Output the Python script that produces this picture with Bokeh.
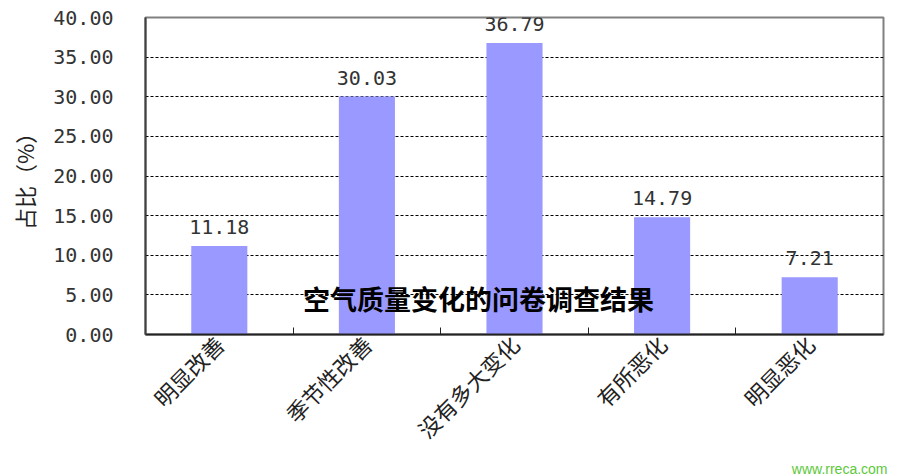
from bokeh.plotting import figure
from bokeh.models import ColumnDataSource, FixedTicker, LabelSet, Label, Range1d, Title
from bokeh.core.properties import value
from bokeh.embed import file_html
from bokeh.resources import INLINE
import math

categories = ["明显改善", "季节性改善", "没有多大变化", "有所恶化", "明显恶化"]
values = [11.18, 30.03, 36.79, 14.79, 7.21]
y_ticks = [0, 5, 10, 15, 20, 25, 30, 35, 40]
y_tick_labels = ["0.00", "5.00", "10.00", "15.00", "20.00", "25.00", "30.00", "35.00", "40.00"]
title_text = "空气质量变化的问卷调查结果"
y_label = "占比（%）"
watermark = "www.rreca.com"

xs = list(range(1, len(categories) + 1))
src = ColumnDataSource(dict(x=xs, top=values, lab=["%.2f" % v for v in values]))

p = figure(width=905, height=476, output_backend="svg", toolbar_location=None,
           x_range=Range1d(0.5, len(categories) + 0.5), y_range=Range1d(0, 40),
           min_border_left=145, min_border_right=22, min_border_top=17, min_border_bottom=142)

p.vbar(x="x", top="top", width=0.38, source=src, fill_color="#9999FF", line_color=None)

p.outline_line_color = "#808080"
p.outline_line_width = 2
p.background_fill_color = "white"
p.border_fill_color = "white"

# y axis
p.yaxis.ticker = FixedTicker(ticks=y_ticks)
p.yaxis.major_label_overrides = {t: l for t, l in zip(y_ticks, y_tick_labels)}
p.yaxis.major_tick_in = 0
p.yaxis.major_tick_out = 0
p.yaxis.minor_tick_in = 0
p.yaxis.minor_tick_out = 0
p.yaxis.axis_line_color = "#404040"
p.yaxis.axis_line_width = 2
p.yaxis.major_label_text_font = "DejaVu Sans Mono"
p.yaxis.major_label_text_font_size = "20px"
p.yaxis.major_label_text_color = "#333333"
p.yaxis.major_label_standoff = 32
p.yaxis.axis_label = y_label
p.yaxis.axis_label_text_font = "Noto Sans CJK SC"
p.yaxis.axis_label_text_font_size = "22px"
p.yaxis.axis_label_text_font_style = "normal"
p.yaxis.axis_label_text_color = "#222222"
p.yaxis.axis_label_standoff = 10

# x axis
p.xaxis.ticker = FixedTicker(ticks=xs, minor_ticks=[x + 0.5 for x in xs[:-1]])
p.xaxis.major_label_overrides = {x: c for x, c in zip(xs, categories)}
p.xaxis.major_tick_in = 0
p.xaxis.major_tick_out = 0
p.xaxis.minor_tick_in = 7
p.xaxis.minor_tick_out = 0
p.xaxis.minor_tick_line_color = "#222222"
p.xaxis.axis_line_color = "#222222"
p.xaxis.axis_line_width = 2
p.xaxis.major_label_orientation = math.pi / 4
p.xaxis.major_label_text_font = "Noto Sans CJK SC"
p.xaxis.major_label_text_font_size = "22px"
p.xaxis.major_label_text_color = "#222222"
p.xaxis.major_label_standoff = 5

p.xgrid.grid_line_color = None
p.ygrid.ticker = FixedTicker(ticks=y_ticks)
p.ygrid.grid_line_color = "black"
p.ygrid.grid_line_dash = "3 2"
p.ygrid.grid_line_width = 1

labels = LabelSet(x="x", y="top", text="lab", source=src, text_align="center",
                  text_baseline="bottom", y_offset=12, text_font=value("DejaVu Sans Mono"),
                  text_font_size=value("20px"), text_color="#333333")
p.add_layout(labels)

p.add_layout(Label(x=2.756, y=4.54, text=title_text, text_align="center",
                   text_baseline="middle", text_font="Noto Sans CJK SC",
                   text_font_size="27px", text_font_style="bold", text_color="black"))

wm = Title(text=watermark, align="right", text_font="Liberation Sans",
           text_font_size="14px", text_font_style="normal", text_color="#5cc83a",
           standoff=0, offset=-4)
p.add_layout(wm, "below")

open("out.html", "w").write(file_html(p, INLINE))
